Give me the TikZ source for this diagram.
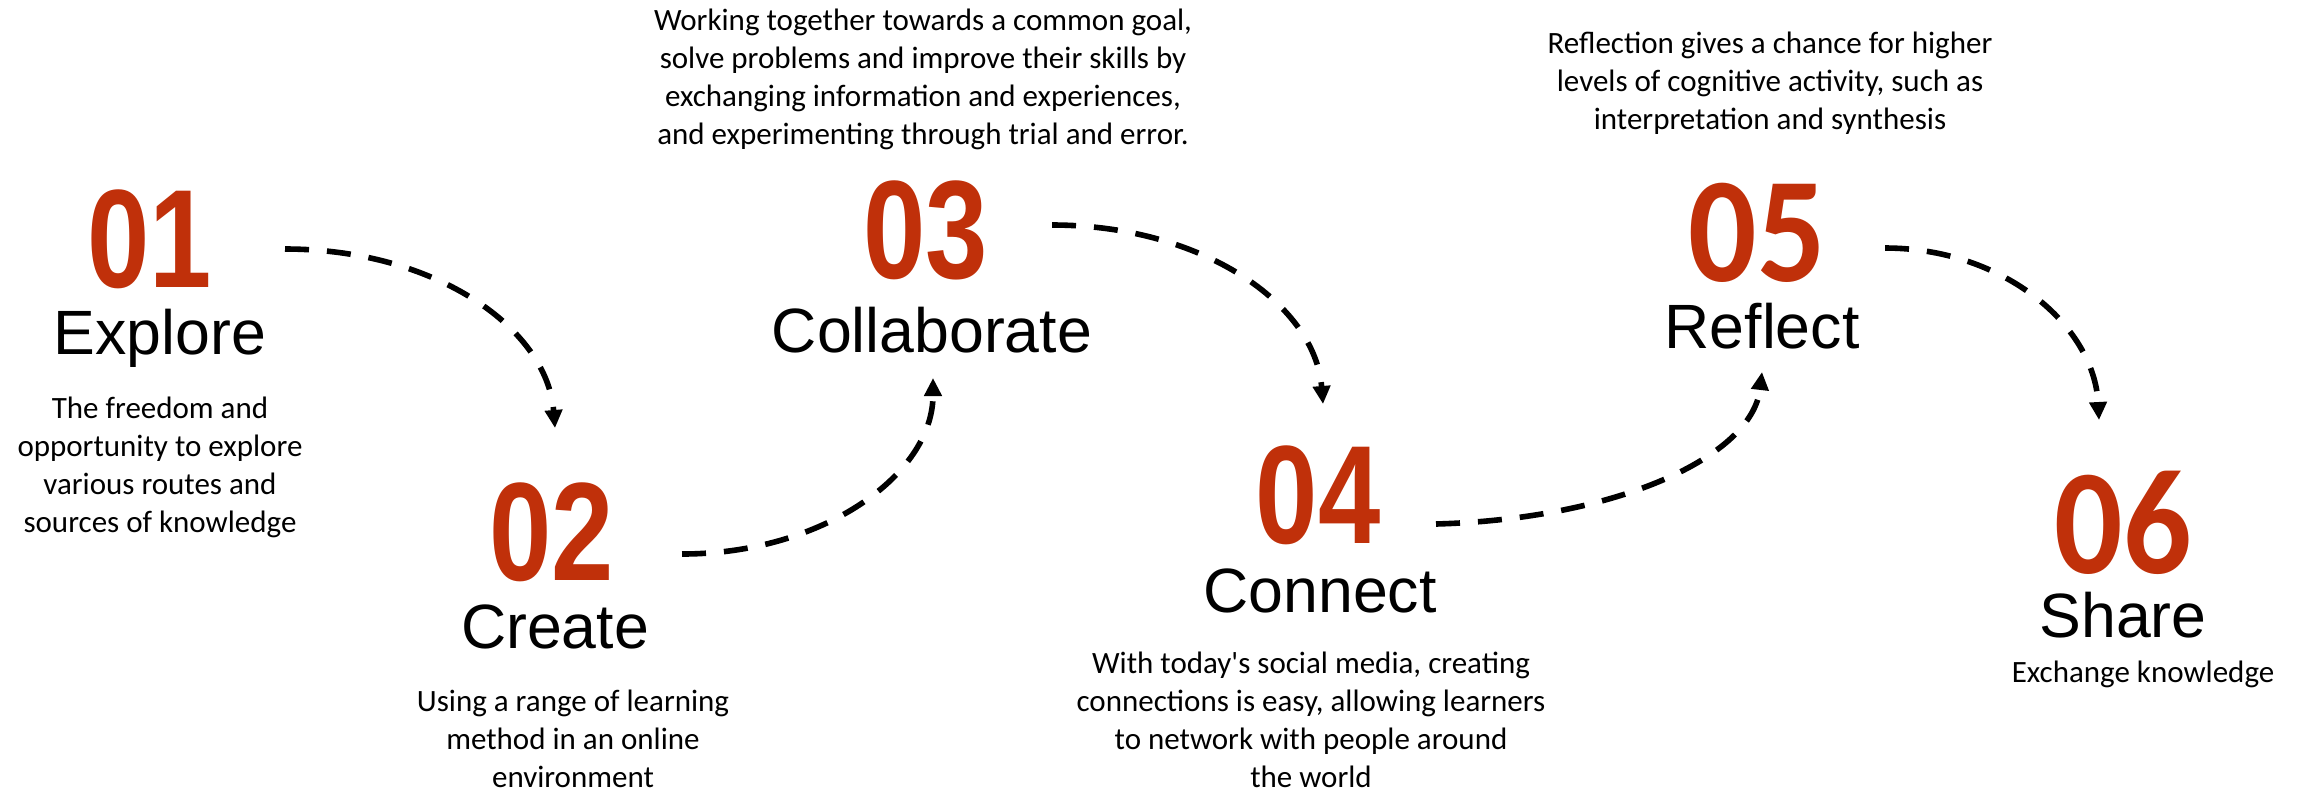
\documentclass[tikz,border=0pt]{standalone}
\usepackage{fontspec}
\usepackage{xcolor}
\usepackage{tikz}
\usetikzlibrary{arrows.meta,positioning}
\setmainfont{Carlito}
\newfontfamily\titlefont{Liberation Sans}
\newfontfamily\numfont[FakeStretch=0.8]{Liberation Sans}
\newfontfamily\numfontwide[FakeStretch=0.9]{Carlito}
\definecolor{rust}{HTML}{C0300A}
\definecolor{ink}{HTML}{000000}

\begin{document}
\begin{tikzpicture}[x=0.5pt,y=-0.5pt,>=Latex,
 num/.style={inner sep=0pt,text=rust,font=\numfont\bfseries\fontsize{70}{70}\selectfont},
 numwide/.style={inner sep=0pt,text=rust,font=\numfontwide\bfseries\fontsize{75}{75}\selectfont},
 ttl/.style={inner sep=0pt,anchor=base,font=\titlefont\fontsize{31.3}{31.3}\selectfont},
 desc/.style={inner sep=0pt,anchor=base,align=center,font=\fontsize{15.5}{19}\selectfont},
 flow/.style={-{Triangle[length=9pt,width=8.5pt]},line width=2.8pt,dash pattern=on 12pt off 9pt,draw=ink}]
 \useasboundingbox (0,0) rectangle (2305,794);
 % steps (desc nodes sit on the baseline of their last line)
 \node[num] (n1) at (150,239) {01};
 \node[ttl] (t1) at (160,354) {Explore};
 \node[desc] (d1) at (160,532) {The freedom and\\opportunity to explore\\various routes and\\sources of knowledge};

 \node[num] (n2) at (552,532) {02};
 \node[ttl] (t2) at (555,648) {Create};
 \node[desc] (d2) at (573,787) {Using a range of learning\\method in an online\\environment};

 \node[desc] (d3) at (923,144) {Working together towards a common goal,\\solve problems and improve their skills by\\exchanging information and experiences,\\and experimenting through trial and error.};
 \node[num] (n3) at (926,230) {03};
 \node[ttl] (t3) at (932,352) {Collaborate};

 \node[num] (n4) at (1318,495) {04};
 \node[ttl] (t4) at (1320,612) {Connect};
 \node[desc] (d4) at (1311,787) {With today\textquotesingle s social media, creating\\connections is easy, allowing learners\\to network with people around\\the world};

 \node[desc] (d5) at (1770,129) {Reflection gives a chance for higher\\levels of cognitive activity, such as\\interpretation and synthesis};
 \node[numwide] (n5) at (1757,233) {05};
 \node[ttl] (t5) at (1762,348) {Reflect};

 \node[numwide] (n6) at (2123,523) {06};
 \node[ttl] (t6) at (2123,637) {Share};
 \node[desc] (d6) at (2143,682) {Exchange knowledge};

 % dashed links
 \draw[flow] ([xshift=67.5pt,yshift=-5pt]n1.center) .. controls +(150,0) and +(-8,-100) .. ([xshift=1.5pt,yshift=52pt]n2.center);
 \draw[flow] ([xshift=65pt,yshift=-11pt]n2.center) .. controls +(140,0) and +(0,97) .. ([xshift=0.5pt,yshift=-13pt]t3.base);
 \draw[flow] ([xshift=63pt,yshift=2.5pt]n3.center) .. controls +(150,0) and +(-8,-100) .. ([xshift=2.5pt,yshift=45.5pt]n4.center);
 \draw[flow] ([xshift=59pt,yshift=-14.5pt]n4.center) .. controls +(180,-5) and +(-10,85) .. ([yshift=-12pt]t5.base);
 \draw[flow] ([xshift=64pt,yshift=-7.5pt]n5.center) .. controls +(118,0) and +(-5,-95) .. ([xshift=-12pt,yshift=51.5pt]n6.center);
\end{tikzpicture}
\end{document}
